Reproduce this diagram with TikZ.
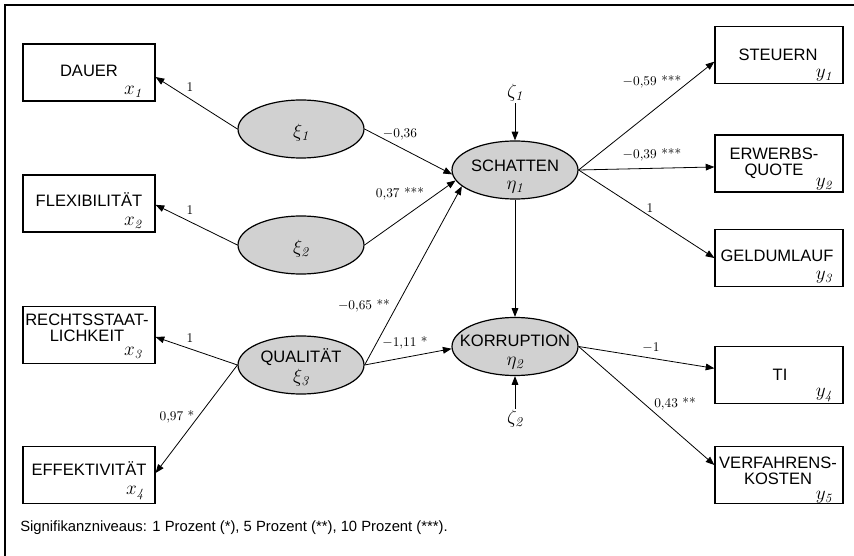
\documentclass[tikz,border=0pt]{standalone}
\usepackage{fontspec}
\newfontfamily\sanslab{Liberation Sans}
\usetikzlibrary{shapes.geometric,arrows.meta}
\begin{document}
\begin{tikzpicture}[x=0.75pt,y=-0.75pt,
  box/.style={draw,line width=0.9pt,minimum width=99pt,minimum height=42.75pt,inner sep=0pt},
  rbox/.style={box,minimum width=96pt},
  lat/.style={ellipse,draw,line width=0.9pt,fill=black!18,minimum width=94.5pt,minimum height=43.5pt,inner sep=0pt},
  conn/.style={line width=0.6pt,-{Triangle[length=6.5pt,width=5pt]}},
  coef/.style={font=\fontsize{10}{12}\selectfont,inner sep=0pt},
  lbl/.style={font=\sanslab\fontsize{12.4}{12}\selectfont,align=center,inner sep=0pt},
  var/.style={font=\fontsize{13.5}{15}\selectfont,inner sep=0pt},
  gk/.style={font=\fontsize{14.5}{16}\selectfont,inner sep=1pt}]
\useasboundingbox (0,0) rectangle (854,556);
\draw[line width=1.1pt] (5,556) -- (5,5) -- (854,5);

% left boxes
\node[box] (dauer) at (89,72.5) {};
\node[box] (flex) at (89,203.5) {};
\node[box] (rechts) at (89,335) {};
\node[box] (effekt) at (89,475) {};
\node[lbl] (tdauer) at (89,71) {DAUER};
\node[lbl] (tflex) at (89,200) {FLEXIBILITÄT};
\node[lbl] (trechts) at (87,328) {RECHTSSTAAT-\\LICHKEIT};
\node[lbl] (teffekt) at (89,469) {EFFEKTIVITÄT};
\node[var] (vx1) at (133,92) {$x_{\mathit{1}}$};
\node[var] (vx2) at (133,223) {$x_{\mathit{2}}$};
\node[var] (vx3) at (133,353) {$x_{\mathit{3}}$};
\node[var] (vx4) at (135,493) {$x_{\mathit{4}}$};

% right boxes
\node[rbox] (steuern) at (779,55) {};
\node[rbox] (erwerb) at (779,163.5) {};
\node[rbox] (geld) at (779,258) {};
\node[rbox] (ti) at (779,375) {};
\node[rbox] (verf) at (779,475) {};
\node[lbl] (tsteuern) at (778,55) {STEUERN};
\node[lbl] (terwerb) at (774,163) {ERWERBS-\\QUOTE};
\node[lbl] (tgeld) at (777,256) {GELDUMLAUF};
\node[lbl] (tti) at (780,375) {TI};
\node[lbl] (tverf) at (778,471) {VERFAHRENS-\\KOSTEN};
\node[var] (vy1) at (824,75) {$y_{\mathit{1}}$};
\node[var] (vy2) at (824,184) {$y_{\mathit{2}}$};
\node[var] (vy3) at (824,277) {$y_{\mathit{3}}$};
\node[var] (vy4) at (824,395) {$y_{\mathit{4}}$};
\node[var] (vy5) at (824,497) {$y_{\mathit{5}}$};

% latent variables
\node[lat] (xi1) at (301,129) {};
\node[lat] (xi2) at (301,245) {};
\node[lat] (xi3) at (301,365) {};
\node[lat] (eta1) at (515,170) {};
\node[lat] (eta2) at (515,346.5) {};
\node[gk] (txi1) at (301,133) {$\xi_{\mathit{1}}$};
\node[gk] (txi2) at (301,249) {$\xi_{\mathit{2}}$};
\node[lbl] (tqual) at (301,357) {QUALITÄT};
\node[gk] (txi3) at (301,378) {$\xi_{\mathit{3}}$};
\node[lbl] (tschatten) at (515,166) {SCHATTEN};
\node[gk] (teta1) at (515,187) {$\eta_{\mathit{1}}$};
\node[lbl] (tkorr) at (515,341) {KORRUPTION};
\node[gk] (teta2) at (515,363) {$\eta_{\mathit{2}}$};
\node[gk] (zeta1) at (515,93) {$\zeta_{\mathit{1}}$};
\node[gk] (zeta2) at (515,419) {$\zeta_{\mathit{2}}$};

% connectors
\draw[conn] (xi1.west) -- ([yshift=-3.4pt]dauer.east);
\draw[conn] (xi2.west) -- ([yshift=-1pt]flex.east);
\draw[conn] (xi3.west) -- ([yshift=-1.5pt]rechts.east);
\draw[conn] (xi3.west) -- ([yshift=1.5pt]effekt.east);
\draw[conn] (xi1.east) -- (eta1.184);
\draw[conn] (xi2.east) -- (eta1.190);
\draw[conn] (xi3.east) -- (eta1.197);
\draw[conn] (xi3.east) -- (eta2.182);
\draw[conn] (zeta1.south) -- (eta1.north);
\draw[conn] (eta1.south) -- (eta2.north);
\draw[conn] (zeta2.north) -- (eta2.south);
\draw[conn] (eta1.east) -- ([yshift=-5pt]steuern.west);
\draw[conn] (eta1.east) -- ([yshift=-2.6pt]erwerb.west);
\draw[conn] (eta1.east) -- (geld.west);
\draw[conn] (eta2.east) -- ([yshift=5pt]ti.west);
\draw[conn] (eta2.east) -- ([yshift=7.5pt]verf.west);

% coefficients
\node[coef] (c1) at (190,87) {1};
\node[coef] (c2) at (190,210) {1};
\node[coef] (c3) at (190,338) {1};
\node[coef] (c4) at (177,417) {0,97 *};
\node[coef] (c5) at (400,134) {$-$0,36};
\node[coef] (c6) at (400,194) {0,37 ***};
\node[coef] (c7) at (364,306) {$-$0,65 **};
\node[coef] (c8) at (405,343) {$-$1,11 *};
\node[coef] (c9) at (652,82) {$-$0,59 ***};
\node[coef] (c10) at (652,155) {$-$0,39 ***};
\node[coef] (c11) at (650,208) {1};
\node[coef] (c12) at (651,348) {$-$1};
\node[coef] (c13) at (675,404) {0,43 **};

\node[anchor=west,font=\sanslab\fontsize{11.1}{13}\selectfont,inner sep=0pt] (foot) at (20,528)
  {Signifikanzniveaus: 1 Prozent (*), 5 Prozent (**), 10 Prozent (***).};
\end{tikzpicture}
\end{document}
